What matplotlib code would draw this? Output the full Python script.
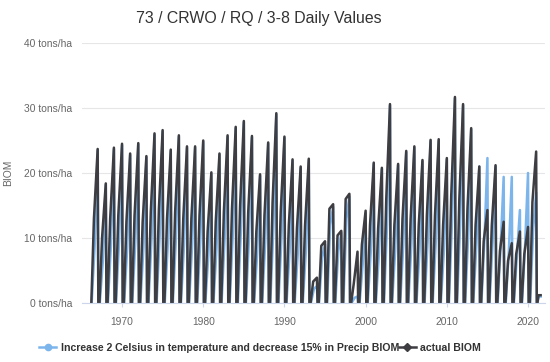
import matplotlib
matplotlib.use('Agg')
import matplotlib.pyplot as plt
from matplotlib.lines import Line2D

plt.rcParams['font.family'] = ['Liberation Sans', 'DejaVu Sans']

# one growing season per year, peak reached around the start of the year
years = list(range(1967, 2022))

actual_peak = [23.7, 18.4, 23.9, 24.5, 23.0, 24.6, 22.6, 26.1, 26.6, 23.6,
               25.8, 24.1, 24.1, 25.0, 20.1, 23.0, 25.8, 27.1, 28.0, 25.7,
               19.8, 24.7, 29.2, 25.6, 22.1, 21.0, 22.2, 3.9, 9.5, 15.2,
               11.1, 16.8, 7.9, 14.2, 21.6, 20.8, 30.6, 21.4, 23.4, 24.1,
               22.0, 25.1, 25.2, 22.3, 31.7, 30.6, 26.9, 21.0, 14.3, 21.2,
               12.5, 9.2, 11.0, 11.7, 23.3]
actual_shoulder = [13.0, 10.0, 13.0, 13.5, 12.5, 13.5, 12.5, 14.0, 14.5, 13.0,
                   14.0, 13.0, 13.0, 13.5, 11.0, 12.5, 14.0, 14.5, 15.0, 14.0,
                   11.0, 13.5, 15.5, 14.0, 12.0, 11.5, 12.0, 3.3, 8.8, 14.5,
                   10.4, 16.0, 3.0, 9.0, 12.0, 11.5, 16.0, 12.0, 13.0, 13.0,
                   12.0, 13.5, 13.5, 12.0, 16.5, 16.0, 14.5, 12.0, 9.5, 12.0,
                   8.0, 6.5, 7.5, 7.5, 15.5]

scen_peak = [23.5, 18.2, 23.7, 24.3, 22.8, 24.4, 22.4, 25.9, 26.4, 23.4,
             25.6, 23.9, 23.9, 24.8, 19.9, 22.8, 25.6, 26.9, 27.8, 25.5,
             19.6, 24.5, 29.0, 25.4, 21.9, 20.8, 22.0, 2.6, 9.0, 14.8,
             10.8, 16.4, 1.0, 13.8, 21.4, 20.6, 30.4, 21.2, 23.2, 23.9,
             21.8, 24.9, 25.0, 22.1, 31.5, 30.4, 26.7, 21.0, 22.3, 21.0,
             19.4, 19.4, 14.3, 20.0, 17.0]
scen_shoulder = [9.0, 6.5, 9.0, 9.5, 8.5, 9.5, 8.5, 10.0, 10.5, 9.0,
                 10.0, 9.0, 9.0, 9.5, 7.5, 8.5, 10.0, 10.5, 11.0, 10.0,
                 7.5, 9.5, 11.5, 10.0, 8.0, 7.5, 8.0, 2.2, 7.0, 12.0,
                 8.0, 13.0, 0.8, 6.0, 8.0, 7.5, 12.0, 8.0, 9.0, 9.0,
                 8.0, 9.5, 9.5, 8.0, 12.5, 12.0, 10.5, 9.0, 10.0, 9.5,
                 9.0, 8.0, 7.5, 9.0, 11.5]

# last partial season at the right edge
tail_x = [2021.15, 2021.3, 2021.55]
tail_actual = [0.0, 1.2, 1.2]
tail_scen = [0.0, 1.0, 1.0]


def season_line(peaks, shoulders, start, mid, tail_y):
    xs, ys = [], []
    for yr, pk, sh in zip(years, peaks, shoulders):
        xs += [yr + start, yr + mid, yr, yr + 0.08]
        ys += [0.0, sh, pk, 0.0]
    return xs + tail_x, ys + tail_y


xb, yb = season_line(scen_peak, scen_shoulder, -0.74, -0.36, tail_scen)
xd, yd = season_line(actual_peak, actual_shoulder, -0.78, -0.46, tail_actual)

blue = '#7cb5ec'
dark = '#3d3d42'

fig = plt.figure(figsize=(5.5, 3.62), dpi=100)
ax = fig.add_axes([82 / 550, 59 / 362, 463 / 550, 260 / 362])

ax.plot(xb, yb, color=blue, lw=1.8)
ax.plot(xd, yd, color=dark, lw=1.8)

ax.set_xlim(1965.07, 2022.09)
ax.set_ylim(0, 40)
ax.set_yticks([0, 10, 20, 30, 40])
ax.set_yticklabels([f'{v} tons/ha' for v in [0, 10, 20, 30, 40]])
ax.set_xticks([1970, 1980, 1990, 2000, 2010, 2020])

ax.grid(axis='y', color='#e6e6e6', lw=0.8)
ax.set_axisbelow(True)
for s in ['top', 'right', 'left']:
    ax.spines[s].set_visible(False)
ax.spines['bottom'].set_color('#ccd6eb')
ax.spines['bottom'].set_linewidth(0.8)

ax.tick_params(axis='y', length=0, pad=7, labelsize=7.4, labelcolor='#666666')
ax.tick_params(axis='x', length=3, color='#ccd6eb', pad=7, labelsize=7.4,
               labelcolor='#666666')

fig.text(0.47, 0.95, '73 / CRWO / RQ / 3-8 Daily Values', ha='center',
         va='center', fontsize=11.4, color='#333333')
fig.text(0.0155, 0.522, 'BIOM', rotation=90, ha='center', va='center',
         fontsize=7.4, color='#666666')

handles = [Line2D([], [], color=blue, lw=1.8, marker='o', markersize=4.5),
           Line2D([], [], color=dark, lw=1.8, marker='D', markersize=4)]
labels = ['Increase 2 Celsius in temperature and decrease 15% in Precip BIOM',
          'actual BIOM']
fig.legend(handles, labels, ncol=2, loc='center', bbox_to_anchor=(0.473, 0.039),
           frameon=False, handlelength=1.6, handletextpad=0.4,
           columnspacing=0.0, prop={'weight': 'bold', 'size': 7.6},
           labelcolor='#333333')

fig.savefig('out.png', dpi=100)
